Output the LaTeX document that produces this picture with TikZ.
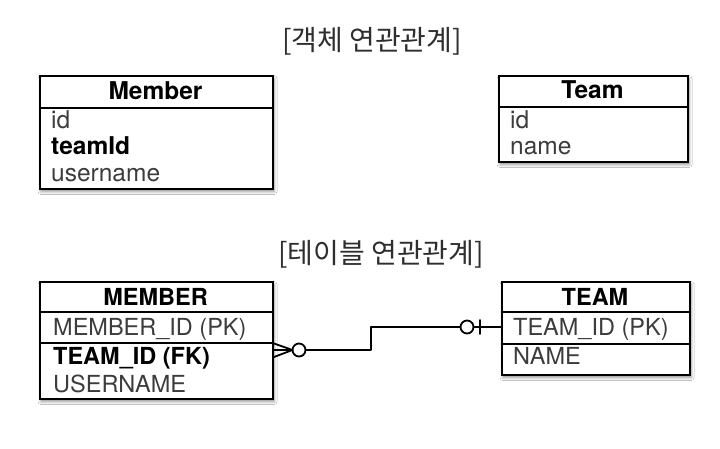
\documentclass[tikz,border=0pt]{standalone}
\usepackage{fontspec}
\setmainfont{TeX Gyre Heros}
\newfontfamily\krfont{Noto Sans CJK KR}
\usetikzlibrary{shadows.blur}
\definecolor{rowgray}{HTML}{3C3C3C}
\definecolor{titlegray}{HTML}{2E2E2E}
\begin{document}
\begin{tikzpicture}[x=1pt,y=-1pt,
  box/.style={draw=black, line width=2pt, fill=white, inner sep=0pt, anchor=north west,
    blur shadow={shadow xshift=1pt, shadow yshift=-2.5pt, shadow blur radius=3pt, shadow opacity=45}},
  sepline/.style={line width=1.5pt},
  septhick/.style={line width=2pt},
  hdr/.style={font=\fontsize{23.5}{26}\selectfont\bfseries, anchor=base, inner sep=0pt},
  hdrbig/.style={font=\fontsize{24.5}{27}\selectfont\bfseries, anchor=base, inner sep=0pt},
  rowtxt/.style={font=\fontsize{23.5}{26}\selectfont, text=rowgray, anchor=base west, inner sep=0pt},
  rowbig/.style={font=\fontsize{24.5}{27}\selectfont, text=rowgray, anchor=base west, inner sep=0pt},
  rowbold/.style={font=\fontsize{23.5}{26}\selectfont\bfseries, text=black, anchor=base west, inner sep=0pt},
  rowboldbig/.style={font=\fontsize{24.5}{27}\selectfont\bfseries, text=black, anchor=base west, inner sep=0pt},
  title/.style={font=\krfont\fontsize{28}{32}\selectfont, text=titlegray, inner sep=0pt},
  conn/.style={line width=1.8pt, line cap=round, line join=round}]
\useasboundingbox (0,0) rectangle (720,449);
\fill[white] (0,0) rectangle (720,449);

% titles
\node[title] (t1) at (372,41) {[객체 연관관계]};
\node[title] (t2) at (381,254) {[테이블 연관관계]};

% object model: Member
\node[box, minimum width=233pt, minimum height=113pt] (member) at (39,75) {};
\draw[sepline] (member.west |- 0,108) -- (member.east |- 0,108);
\node[hdrbig] (memberh) at (155.5,100) {Member};
\node[rowbig] (m1) at (51,129) {id};
\node[rowboldbig] (m2) at (51,155) {teamId};
\node[rowbig] (m3) at (51,182) {username};

% object model: Team
\node[box, minimum width=189pt, minimum height=86pt] (team) at (498,75) {};
\draw[sepline] (team.west |- 0,107) -- (team.east |- 0,107);
\node[hdrbig] (teamh) at (592.5,99) {Team};
\node[rowbig] (tm1) at (510,129) {id};
\node[rowbig] (tm2) at (510,155) {name};

% table model: MEMBER
\node[box, minimum width=233pt, minimum height=117pt] (MEM) at (39,281) {};
\draw[sepline] (MEM.west |- 0,312) -- (MEM.east |- 0,312);
\draw[septhick] (MEM.west |- 0,343) -- (MEM.east |- 0,343);
\node[hdr] (MEMh) at (155.5,305) {MEMBER};
\node[rowtxt] (M1) at (53,335) {MEMBER\_ID (PK)};
\node[rowbold] (M2) at (53,364) {TEAM\_ID (FK)};
\node[rowtxt] (M3) at (53,392) {USERNAME};

% table model: TEAM
\node[box, minimum width=188pt, minimum height=93pt] (TM) at (501,281) {};
\draw[sepline] (TM.west |- 0,312) -- (TM.east |- 0,312);
\draw[sepline] (TM.west |- 0,344) -- (TM.east |- 0,344);
\node[hdr] (TMh) at (595,305) {TEAM};
\node[rowtxt] (T1) at (513,335) {TEAM\_ID (PK)};
\node[rowtxt] (T2) at (513,364) {NAME};

% relationship
\coordinate (fkA) at (MEM.east |- 0,343.5);
\coordinate (fkB) at (MEM.east |- 0,350);
\coordinate (fkC) at (MEM.east |- 0,357);
\coordinate (foot) at (292.5,350);
\coordinate (oc1) at (299,350);
\coordinate (oc1r) at (305.5,350);
\coordinate (bend1) at (371,350);
\coordinate (bend2) at (371,327);
\coordinate (oc2l) at (460.5,327);
\coordinate (oc2) at (467,327);
\coordinate (oc2r) at (473.5,327);
\coordinate (barT) at (480,320);
\coordinate (barB) at (480,334);
\coordinate (pk) at (TM.west |- 0,327);

\draw[conn] (fkA) -- (foot) -- (fkC);
\draw[conn] (fkB) -- (foot);
\draw[conn] (oc1) circle[radius=6.5pt];
\draw[conn] (oc1r) -- (bend1) -- (bend2) -- (oc2l);
\draw[conn] (oc2) circle[radius=6.5pt];
\draw[conn] (oc2r) -- (pk);
\draw[conn] (barT) -- (barB);
\end{tikzpicture}
\end{document}
